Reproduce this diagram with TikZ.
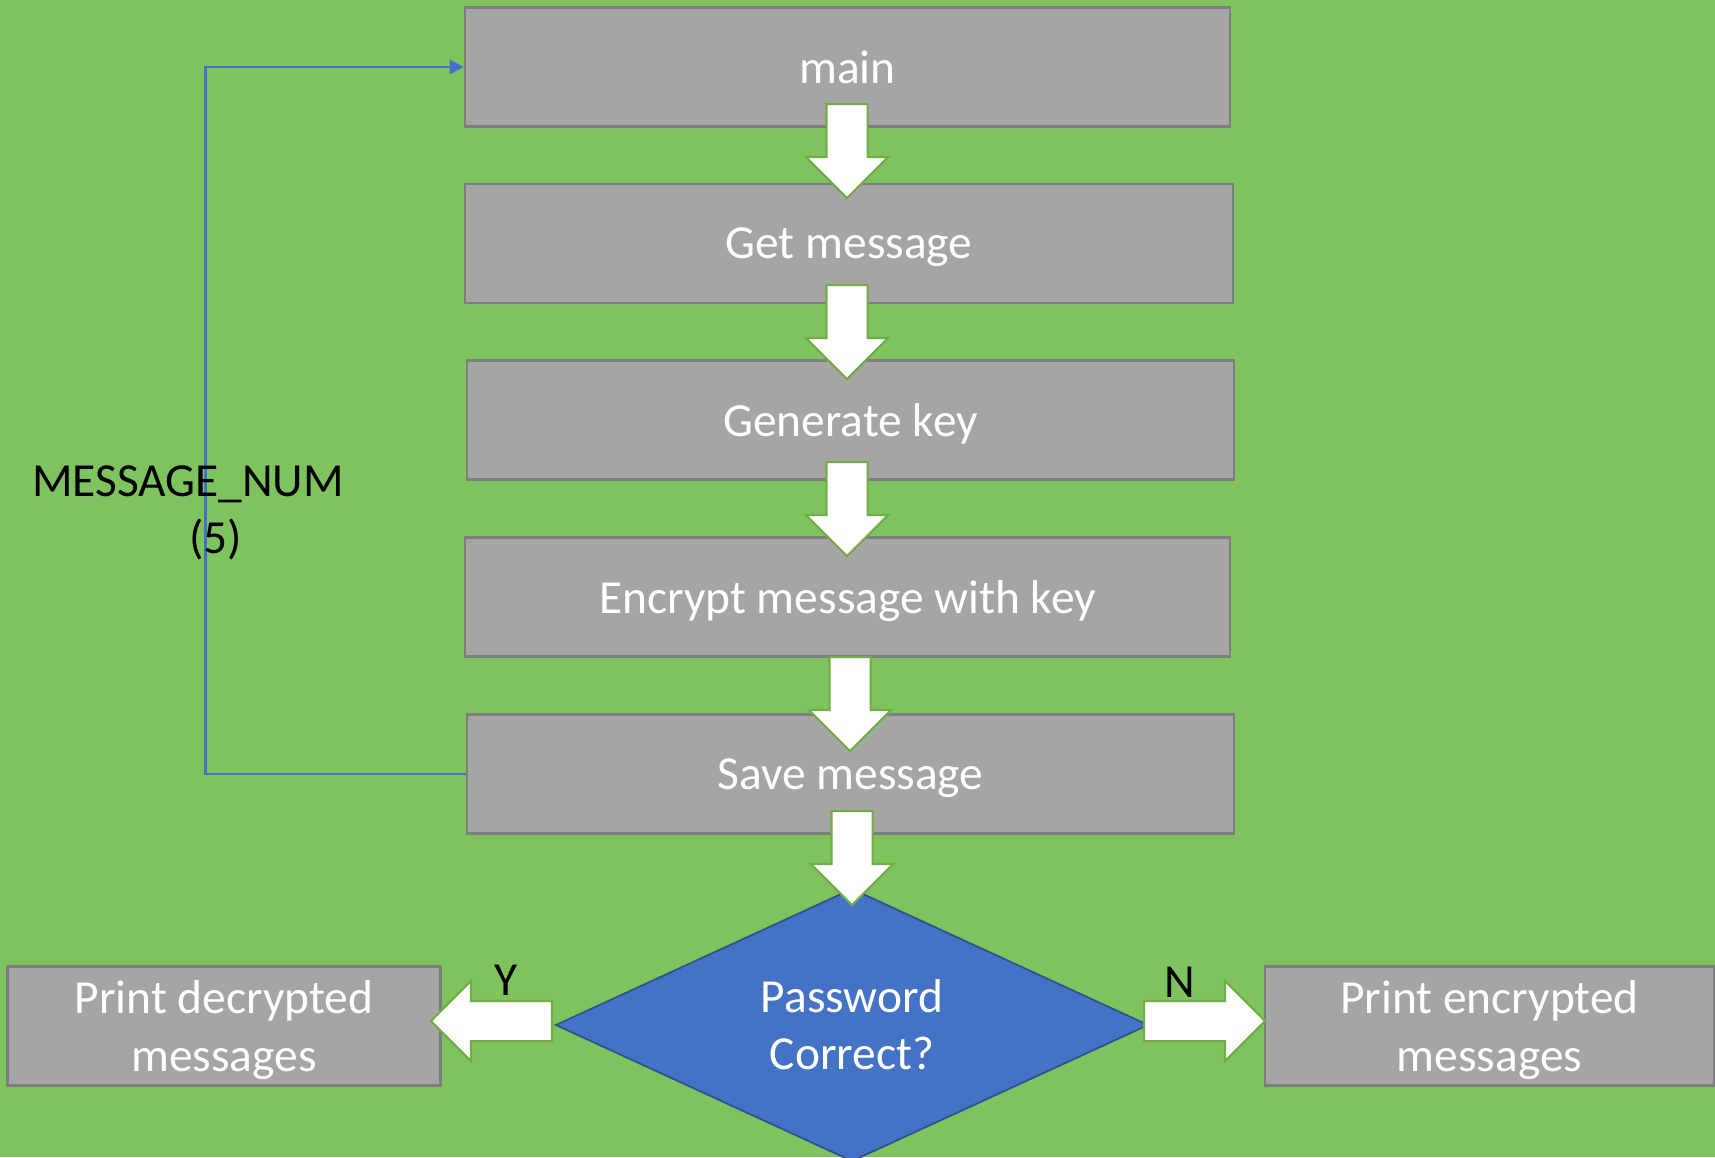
\documentclass[tikz,border=0pt]{standalone}
\usepackage{fontspec}
\setmainfont{Carlito}
\usetikzlibrary{calc}
\usetikzlibrary{shapes.geometric, shapes.arrows}
\usetikzlibrary{arrows.meta}
\definecolor{bggreen}{RGB}{127,195,95}
\definecolor{boxgray}{RGB}{165,165,165}
\definecolor{boxedge}{RGB}{125,125,125}
\definecolor{arrowedge}{RGB}{112,173,71}
\definecolor{diafill}{RGB}{68,114,196}
\definecolor{diaedge}{RGB}{47,82,143}

\begin{document}
\begin{tikzpicture}[x=0.02cm, y=-0.02cm,
    stepbox/.style={draw=boxedge, line width=1.5pt, fill=boxgray, text=white,
        minimum height=2.38cm, inner sep=0pt, align=center, text depth=0pt,
        font=\fontsize{27}{32.5}\selectfont},
    downarrow/.style={single arrow, draw=arrowedge, fill=white, line width=1.2pt,
        rotate=-90, minimum height=1.88cm, inner xsep=0pt, inner ysep=0.39cm,
        single arrow head extend=0.41cm, anchor=tail},
    sidearrow/.style={single arrow, draw=arrowedge, fill=white, line width=1.2pt,
        minimum height=2.42cm, inner xsep=0pt, inner ysep=0.38cm,
        single arrow head extend=0.4cm, anchor=tail},
    plaintext/.style={font=\fontsize{27}{32.5}\selectfont, text=black}]
    \fill[bggreen] (0,0) rectangle (1715,1157);
    \useasboundingbox (0,0) rectangle (1715,1157);

    \node[stepbox, minimum width=15.3cm] (main) at (847.5,67) {main};
    \node[stepbox, minimum width=15.36cm] (getmsg) at (849,243.5) {Get message};
    \node[stepbox, minimum width=15.34cm] (genkey) at (850.5,420) {Generate key};
    \node[stepbox, minimum width=15.3cm] (encrypt) at (847.5,597) {Encrypt message with key};
    \node[stepbox, minimum width=15.34cm] (save) at (850.5,774) {Save message};
    \node[diamond, draw=diaedge, line width=1pt, fill=diafill, text=white, inner sep=0pt,
        minimum width=11.86cm, minimum height=5.2cm, align=center,
        font=\fontsize{27}{32.5}\selectfont] (pwd) at (852,1025) {Password\\Correct?};
    \node[stepbox, minimum width=8.66cm] (decrypted) at (224,1026) {Print decrypted\\messages};
    \node[stepbox, minimum width=8.98cm] (encrypted) at (1489.5,1026) {Print encrypted\\messages};

    \node[downarrow] (a1) at (847,103) {};
    \node[downarrow] (a2) at (847,284) {};
    \node[downarrow] (a3) at (847,461) {};
    \node[downarrow] (a4) at (850,656) {};
    \node[downarrow] (a5) at (852,810) {};
    \node[sidearrow, shape border rotate=180] (ay) at (553,1021) {};
    \node[sidearrow, anchor=west] (an) at (1143,1021) {};

    \draw[diafill, line width=1.6pt, -{Triangle[length=8pt, width=8pt]}]
        (save.west) -- ++(-260,0) |- (main.west);

    \node[plaintext, align=center] (msgnum) at (188,513) {MESSAGE\_NUM\\\hspace*{1.1cm}(5)};
    \node[plaintext] (yes) at (506,980) {Y};
    \node[plaintext] (no) at (1180,982) {N};
\end{tikzpicture}
\end{document}
